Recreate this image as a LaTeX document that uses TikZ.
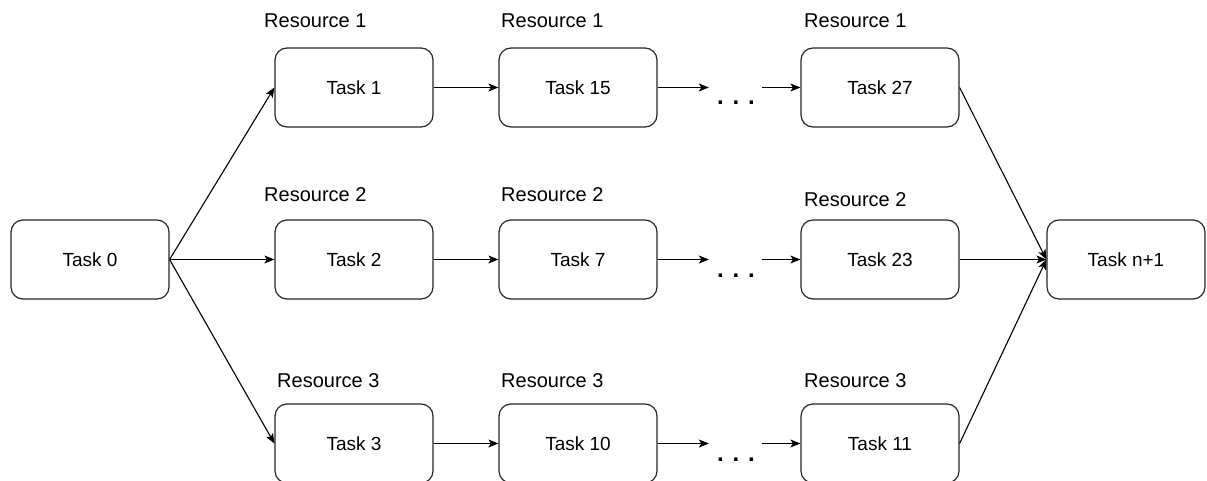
\documentclass[tikz,border=0pt]{standalone}
\usepackage{fontspec}
\setmainfont{Liberation Sans}
\usetikzlibrary{arrows.meta}
\begin{document}
\begin{tikzpicture}[x=1pt,y=-1pt,
  task/.style={draw=black!85, line width=1.2pt, rounded corners=12pt,
    minimum width=158pt, minimum height=79pt, inner sep=0pt,
    font=\fontsize{19}{23}\selectfont},
  res/.style={anchor=base west, inner sep=0pt, font=\fontsize{20}{24}\selectfont},
  gap/.style={minimum width=53pt, minimum height=10pt, inner sep=0pt},
  dotmark/.style={anchor=base, inner sep=0pt, font=\fontsize{24}{28}\selectfont\bfseries},
  link/.style={line width=1.1pt, -{Stealth[length=10pt, width=8pt, inset=2.5pt]}}
]
\useasboundingbox (0,0) rectangle (1207,481);

% task boxes
\node[task] (t0)  at (90,259.5)    {Task 0};
\node[task] (t1)  at (354,87.5)    {Task 1};
\node[task] (t2)  at (354,259.5)   {Task 2};
\node[task] (t3)  at (354,443.5)   {Task 3};
\node[task] (t15) at (578,87.5)    {Task 15};
\node[task] (t7)  at (578,259.5)   {Task 7};
\node[task] (t10) at (578,443.5)   {Task 10};
\node[task] (t27) at (880,87.5)    {Task 27};
\node[task] (t23) at (880,259.5)   {Task 23};
\node[task] (t11) at (880,443.5)   {Task 11};
\node[task] (tn)  at (1126,259.5)  {Task n+1};

% resource labels
\node[res] (r1a) at (264,28)  {Resource 1};
\node[res] (r1b) at (501,28)  {Resource 1};
\node[res] (r1c) at (804,28)  {Resource 1};
\node[res] (r2a) at (264,202) {Resource 2};
\node[res] (r2b) at (501,202) {Resource 2};
\node[res] (r2c) at (804,207) {Resource 2};
\node[res] (r3a) at (277,387) {Resource 3};
\node[res] (r3b) at (501,387) {Resource 3};
\node[res] (r3c) at (804,387) {Resource 3};

% ellipsis gaps
\node[gap] (d1) at (735.5,87.5)  {};
\node[gap] (d2) at (735.5,259.5) {};
\node[gap] (d3) at (735.5,443.5) {};
\node[dotmark] (e1) at (736,105) {. . .};
\node[dotmark] (e2) at (736,277) {. . .};
\node[dotmark] (e3) at (736,461) {. . .};

% fan out
\draw[link] (t0.east) -- (t1.west);
\draw[link] (t0.east) -- (t2.west);
\draw[link] (t0.east) -- (t3.west);

% chains
\draw[link] (t1) -- (t15);
\draw[link] (t15) -- (d1.west);
\draw[link] (d1.east) -- (t27);
\draw[link] (t2) -- (t7);
\draw[link] (t7) -- (d2.west);
\draw[link] (d2.east) -- (t23);
\draw[link] (t3) -- (t10);
\draw[link] (t10) -- (d3.west);
\draw[link] (d3.east) -- (t11);

% fan in
\draw[link] (t27.east) -- (tn.west);
\draw[link] (t23.east) -- (tn.west);
\draw[link] (t11.east) -- (tn.west);
\end{tikzpicture}
\end{document}
